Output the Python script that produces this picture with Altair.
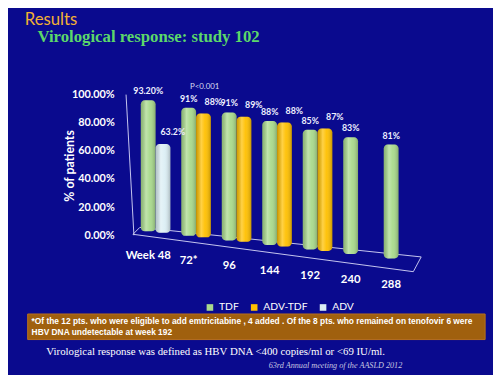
import altair as alt
import pandas as pd

# ---------------- data ----------------
weeks = ["Week 48", "72*", "96", "144", "192", "240", "288"]
series_names = ["TDF", "ADV-TDF", "ADV"]
tdf_values = [93.2, 91, 91, 88, 85, 83, 81]
tdf_labels = ["93.20%", "91%", "91%", "88%", "85%", "83%", "81%"]
adv_tdf_values = [None, 88, 89, 88, 87, None, None]
adv_tdf_labels = [None, "88%", "89%", "88%", "87%", None, None]
adv_values = [63.2, None, None, None, None, None, None]
adv_labels = ["63.2%", None, None, None, None, None, None]
y_ticks = [0, 20, 40, 60, 80, 100]
colors = ["#A9DA8C", "#FFC000", "#DCEFF5"]

# perspective (3-D floor slant) style constants, in pixels
PX_PER_PCT = 1.43
BASE0_PX = 4.0
GROUP_DROP_PX = 4.6
SLOT_DROP_PX = 1.5
LABEL_DROP_PX = 5.0


def base_pct(gi, slot_i, drop=GROUP_DROP_PX):
    return (BASE0_PX - gi * drop - slot_i * SLOT_DROP_PX) / PX_PER_PCT


rows = []
for gi, wk in enumerate(weeks):
    for name, vals, labs, slot_i in [
        ("TDF", tdf_values, tdf_labels, 0),
        ("ADV-TDF", adv_tdf_values, adv_tdf_labels, 1),
        ("ADV", adv_values, adv_labels, 1),
    ]:
        v = vals[gi]
        if v is None:
            continue
        b = base_pct(gi, slot_i)
        rows.append({"week": wk, "series": name, "slot": "ab"[slot_i],
                     "value": v, "label": labs[gi], "base": b, "top": b + v})
df = pd.DataFrame(rows)

df_weeks = pd.DataFrame({"week": weeks, "slot": ["a"] * len(weeks),
                         "base": [base_pct(g, 0, LABEL_DROP_PX) for g in range(len(weeks))]})

# ---------------- layout ----------------
L = 122
W, H = 493 - L, 367
BG = "#0A0A8E"
WHITE = "#FFFFFF"

x_scale = alt.Scale(domain=weeks, range=[13, 290], paddingInner=0.27, paddingOuter=0)
xo_scale = alt.Scale(domain=["a", "b"], paddingInner=0, paddingOuter=0)
y_scale = alt.Scale(domain=[0, 100], range=[228, 85], nice=False, zero=False)
y_axis = alt.Axis(values=y_ticks, labelExpr="format(datum.value, '.2f') + '%'",
                  labelColor=WHITE, labelFont="Lato", labelFontWeight="bold",
                  labelFontSize=11, ticks=False, grid=False, domain=False,
                  labelPadding=14, title="% of patients", titleColor=WHITE,
                  titleFont="Lato", titleFontSize=12.5, titleFontWeight="bold",
                  titleX=-59, titleY=157, titleAngle=270, titleAlign="center",
                  titleBaseline="middle")

x_enc = alt.X("week:N", scale=x_scale, sort=weeks, axis=None)
xo_enc = alt.XOffset("slot:N", scale=xo_scale)


def y_enc(field):
    return alt.Y(f"{field}:Q", scale=y_scale, axis=y_axis, title="% of patients")


base = alt.Chart(df).encode(x=x_enc, xOffset=xo_enc)

bars = base.mark_bar(cornerRadius=4).encode(
    y=y_enc("top"), y2="base:Q",
    color=alt.Color("series:N", scale=alt.Scale(domain=series_names, range=colors),
                    legend=alt.Legend(orient="none", legendX=78, legendY=296,
                                      direction="horizontal", title=None,
                                      symbolType="square", symbolSize=45,
                                      symbolStrokeWidth=0, labelColor=WHITE,
                                      labelFont="Lato", labelFontSize=10.5,
                                      labelOffset=4, columnPadding=10)),
)

shade = base.mark_bar(
    cornerRadius=4,
    fill=alt.Gradient(gradient="linear", x1=0, x2=1, y1=0, y2=0, stops=[
        alt.GradientStop(color="rgba(0,0,0,0.18)", offset=0),
        alt.GradientStop(color="rgba(255,255,255,0.28)", offset=0.35),
        alt.GradientStop(color="rgba(255,255,255,0.05)", offset=0.6),
        alt.GradientStop(color="rgba(0,0,0,0.22)", offset=1),
    ]),
).encode(y=y_enc("top"), y2="base:Q")

label_style = dict(font="Lato", fontWeight="bold", fontSize=9, color="#EEF0FF")
labels_a = base.transform_filter(alt.datum.slot == "a").mark_text(
    dy=-9, dx=0, **label_style).encode(y=y_enc("top"), text="label:N")
labels_b = base.transform_filter(alt.datum.slot == "b").mark_text(
    dy=-12, dx=10, **label_style).encode(y=y_enc("top"), text="label:N")

week_labels = alt.Chart(df_weeks).mark_text(
    dy=25, font="Lato", fontWeight="bold", fontSize=11.5, color=WHITE).encode(
    x=x_enc, xOffset=xo_enc, y=y_enc("base"), text="week:N")

one = pd.DataFrame({"d": [0]})


def rule(x1, y1, x2, y2, color="#C8C8F0", w=1):
    return alt.Chart(one).mark_rule(color=color, strokeWidth=w).encode(
        x=alt.value(x1), y=alt.value(y1), x2=alt.value(x2), y2=alt.value(y2))


def text(s, x, y, **kw):
    return alt.Chart(one).mark_text(align="left", baseline="middle", **kw).encode(
        x=alt.value(x), y=alt.value(y), text=alt.value(s))


floor = [
    rule(5, 227, 290, 265),
    rule(12, 220, 298, 250),
    rule(290, 265, 298, 250),
    rule(5, 227, 12, 220),
    rule(-2, 85, 6, 228),
]

foot_box = alt.Chart(one).mark_rect(color="#A0600E", stroke="#B87020").encode(
    x=alt.value(-102), x2=alt.value(363), y=alt.value(308), y2=alt.value(334))

texts = [
    text("Results", -105, 9, font="Lato", fontSize=17, color="#F2B134"),
    text("Virological response: study 102", -92, 27, font="Liberation Serif",
         fontWeight="bold", fontSize=17, color="#5CD86A"),
    text("P<0.001", 63, 77, font="Lato", fontSize=8, color="#D8DCF0"),
    text("*Of the 12 pts. who were eligible to add emtricitabine , 4 added . Of the 8 pts. who remained on tenofovir 6 were",
         -98, 315, font="Liberation Sans", fontWeight="bold", fontSize=8.5, color=WHITE),
    text("HBV DNA undetectable at week 192", -98, 326, font="Liberation Sans",
         fontWeight="bold", fontSize=8.5, color=WHITE),
    text("Virological response was defined as HBV DNA <400 copies/ml or <69 IU/ml.",
         -83, 347, font="Liberation Serif", fontSize=11, color=WHITE),
    text("63rd Annual meeting of the AASLD 2012", 143, 361, font="Liberation Serif",
         fontStyle="italic", fontSize=8.3, color="#C8C8E0"),
]

chart = alt.layer(
    *floor, bars, shade, labels_a, labels_b, week_labels, foot_box, *texts
).properties(
    width=W, height=H,
    autosize=alt.AutoSizeParams(type="none"),
    padding={"left": L, "top": 0, "right": 0, "bottom": 0},
    background=BG,
).configure_view(stroke=None)

chart.save("out.html", embed_options={"renderer": "svg", "actions": False})
